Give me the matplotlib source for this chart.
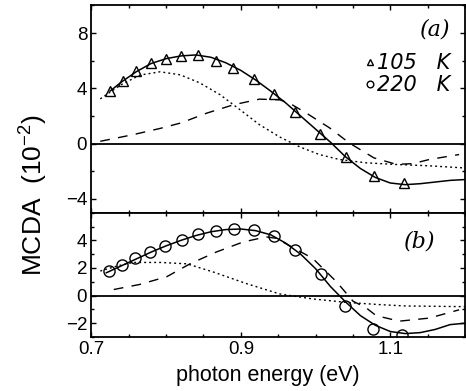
import matplotlib
matplotlib.use('Agg')
import matplotlib.pyplot as plt
from matplotlib.lines import Line2D
from matplotlib.ticker import MultipleLocator

plt.rcParams['font.family'] = ['Liberation Sans', 'DejaVu Sans']
plt.rcParams['mathtext.default'] = 'regular'

# panel (a): 105 K
tri_e = [0.725, 0.743, 0.760, 0.780, 0.800, 0.820, 0.843, 0.867, 0.890, 0.917,
         0.945, 0.973, 1.006, 1.041, 1.078, 1.118]
tri_v = [3.83, 4.53, 5.23, 5.85, 6.16, 6.33, 6.38, 6.00, 5.47, 4.65,
         3.60, 2.30, 0.71, -1.00, -2.33, -2.88]

fit_a_e = [0.725, 0.74, 0.76, 0.78, 0.80, 0.82, 0.84, 0.86, 0.88, 0.90, 0.92, 0.94,
           0.96, 0.98, 1.00, 1.02, 1.04, 1.06, 1.08, 1.10, 1.12, 1.14, 1.16, 1.18, 1.20]
fit_a_v = [3.8, 4.45, 5.2, 5.8, 6.15, 6.35, 6.42, 6.25, 5.85, 5.3, 4.6, 3.8,
           2.95, 2.0, 1.05, 0.1, -0.95, -1.8, -2.45, -2.85, -2.97, -2.9, -2.78, -2.66, -2.6]

dot_a_e = [0.712, 0.739, 0.765, 0.792, 0.819, 0.845, 0.872, 0.899, 0.925, 0.952,
           0.979, 1.005, 1.032, 1.068, 1.108, 1.15, 1.196]
dot_a_v = [3.24, 4.24, 4.96, 5.2, 4.98, 4.4, 3.55, 2.45, 1.37, 0.48,
           -0.24, -0.79, -1.15, -1.39, -1.51, -1.6, -1.75]

dash_a_e = [0.712, 0.756, 0.792, 0.82, 0.854, 0.89, 0.925, 0.952, 0.965, 0.988,
            1.019, 1.045, 1.078, 1.108, 1.13, 1.152, 1.192]
dash_a_v = [0.17, 0.65, 1.1, 1.5, 2.2, 2.81, 3.22, 3.17, 2.93, 2.2,
            1.13, 0.05, -1.03, -1.5, -1.45, -1.15, -0.79]

# panel (b): 220 K
circ_e = [0.723, 0.741, 0.759, 0.779, 0.799, 0.821, 0.843, 0.867, 0.891, 0.917,
          0.945, 0.973, 1.007, 1.040, 1.077, 1.116]
circ_v = [1.78, 2.2, 2.69, 3.17, 3.57, 4.0, 4.45, 4.69, 4.85, 4.74,
          4.3, 3.32, 1.56, -0.75, -2.4, -2.82]

fit_b_e = [0.72, 0.74, 0.76, 0.78, 0.80, 0.82, 0.84, 0.86, 0.88, 0.90, 0.92, 0.94,
           0.96, 0.98, 1.00, 1.02, 1.04, 1.06, 1.08, 1.10, 1.12, 1.14, 1.16, 1.18, 1.20]
fit_b_v = [1.65, 2.15, 2.65, 3.15, 3.6, 4.0, 4.35, 4.62, 4.78, 4.82, 4.7, 4.4,
           3.8, 3.0, 1.95, 0.65, -0.45, -1.45, -2.15, -2.6, -2.75, -2.68, -2.45, -2.1, -2.0]

dot_b_e = [0.712, 0.735, 0.756, 0.792, 0.828, 0.863, 0.908, 0.952, 0.996, 1.041,
           1.085, 1.12, 1.2]
dot_b_v = [1.78, 2.15, 2.4, 2.4, 2.3, 1.71, 0.86, 0.12, -0.24, -0.49,
           -0.65, -0.75, -0.8]

dash_b_e = [0.73, 0.765, 0.801, 0.832, 0.867, 0.903, 0.934, 0.947, 0.996, 1.028,
            1.05, 1.068, 1.081, 1.112, 1.152, 1.192]
dash_b_v = [0.44, 0.81, 1.37, 2.3, 3.15, 3.88, 4.25, 4.15, 2.7, 1.0,
            -0.4, -0.9, -1.45, -1.85, -1.63, -1.03]

fig, (ax1, ax2) = plt.subplots(2, 1, figsize=(4.66, 3.91), dpi=100, sharex=True,
                               gridspec_kw={'height_ratios': [15, 9], 'hspace': 0})
fig.subplots_adjust(left=0.196, right=0.998, top=0.986, bottom=0.138)

dotted = (0, (1.4, 2.2))
dashed = (0, (7, 6))

ax1.plot(fit_a_e, fit_a_v, color='black', lw=1.1)
ax1.plot(dot_a_e, dot_a_v, color='black', lw=1.0, ls=dotted)
ax1.plot(dash_a_e, dash_a_v, color='black', lw=1.0, ls=dashed)
tri, = ax1.plot(tri_e, tri_v, ls='none', marker='^', ms=7, mfc='none', mec='black', mew=1.0)
ax1.axhline(0, color='black', lw=1.3)

ax2.plot(fit_b_e, fit_b_v, color='black', lw=1.1)
ax2.plot(dot_b_e, dot_b_v, color='black', lw=1.0, ls=dotted)
ax2.plot(dash_b_e, dash_b_v, color='black', lw=1.0, ls=dashed)
ax2.plot(circ_e, circ_v, ls='none', marker='o', ms=8, mfc='none', mec='black', mew=1.0)
ax2.axhline(0, color='black', lw=1.3)

ax1.set_ylim(-5, 10)
ax2.set_ylim(-3, 6)
ax2.set_xlim(0.7, 1.2)
ax1.yaxis.set_minor_locator(MultipleLocator(2))
ax2.yaxis.set_minor_locator(MultipleLocator(1))
ax2.xaxis.set_minor_locator(MultipleLocator(0.05))
ax2.set_xticks([0.7, 0.9, 1.1])
ax2.set_xticklabels(['0.7', '0.9', '1.1'])
ax1.set_yticks([-4, 0, 4, 8])
ax1.set_yticklabels(['\u22124', '0', '4', '8'])
ax2.set_yticks([-2, 0, 2, 4])
ax2.set_yticklabels(['\u22122', '0', '2', '4'])

for ax in (ax1, ax2):
    ax.tick_params(which='both', direction='in', top=True, right=True, width=1.0,
                   labelsize=13.5, pad=3)
    ax.tick_params(which='major', length=3.5)
    ax.tick_params(which='minor', length=2.5)
    for s in ax.spines.values():
        s.set_linewidth(1.3)

ax1.text(0.92, 0.885, '(a)', transform=ax1.transAxes, fontsize=16, style='italic',
         family='DejaVu Serif', ha='center', va='center')
ax2.text(0.88, 0.77, '(b)', transform=ax2.transAxes, fontsize=16, style='italic',
         family='DejaVu Serif', ha='center', va='center')

circ_proxy = Line2D([], [], ls='none', marker='o', ms=8, mfc='none', mec='black', mew=1.0)
leg = ax1.legend([tri, circ_proxy], ['105   K', '220   K'], loc='upper right',
                 bbox_to_anchor=(0.995, 0.83), frameon=False, markerscale=0.6,
                 handlelength=0.5, handletextpad=0.1, labelspacing=0.1,
                 borderaxespad=0.2,
                 prop={'size': 15, 'style': 'italic', 'family': 'DejaVu Sans'})

fig.text(0.073, 0.50, 'MCDA  $(10^{-2})$', rotation=90, ha='center', va='center',
         fontsize=19)
fig.text(0.575, 0.04, 'photon energy (eV)', ha='center', va='center', fontsize=15.5)

fig.savefig('out.png', dpi=100)
